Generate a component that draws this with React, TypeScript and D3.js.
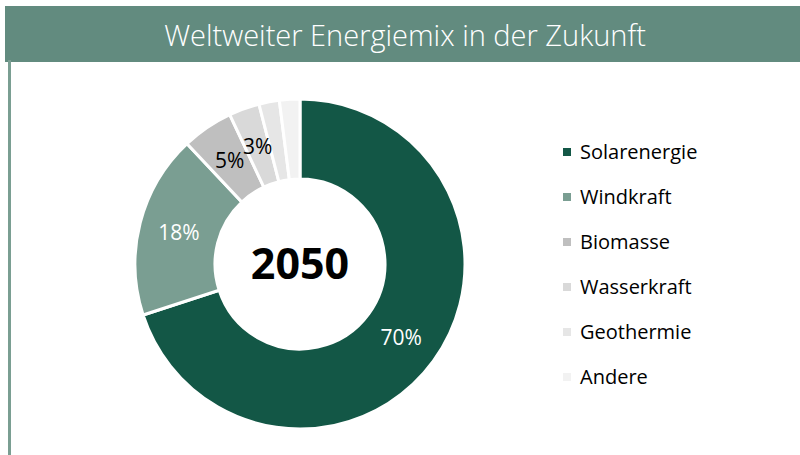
import React, { useEffect, useRef } from 'react';
import * as d3 from 'd3';

const categories = ['Solarenergie', 'Windkraft', 'Biomasse', 'Wasserkraft', 'Geothermie', 'Andere'];
const shares = [70, 18, 5, 3, 2, 2];
const shownLabels = ['70%', '18%', '5%', '3%', '', ''];
const colors = ['#135746', '#7a9e92', '#bfbfbf', '#d9d9d9', '#e6e6e6', '#f2f2f2'];
const labelColors = ['#ffffff', '#ffffff', '#000000', '#000000', '#000000', '#000000'];

const FONT = 'Open Sans, Lato, sans-serif';

const App = () => {
  const svgRef = useRef<SVGSVGElement>(null);

  useEffect(() => {
    const width = 800;
    const height = 455;
    const svg = d3.select(svgRef.current).attr('width', width).attr('height', height);
    svg.selectAll('*').remove();

    svg.append('rect').attr('width', width).attr('height', height).attr('fill', '#ffffff');

    // title bar + left frame line
    svg.append('rect').attr('x', 5).attr('y', 6).attr('width', width - 5).attr('height', 56).attr('fill', '#628b7f');
    svg.append('rect').attr('x', 8).attr('y', 60).attr('width', 3).attr('height', height - 60).attr('fill', '#7a9e92');
    svg.append('text')
      .attr('x', 405)
      .attr('y', 46)
      .attr('text-anchor', 'middle')
      .attr('fill', '#ffffff')
      .style('font-family', FONT)
      .style('font-size', '29px')
      .style('font-weight', 300)
      .text('Weltweiter Energiemix in der Zukunft');

    const cx = 300;
    const cy = 264;
    const outer = 165;
    const inner = 85;

    const pie = d3.pie<number>().sort(null).value(d => d);
    const arcs = pie(shares);
    const arc = d3.arc<d3.PieArcDatum<number>>().innerRadius(inner).outerRadius(outer);
    const labelArc = d3.arc<d3.PieArcDatum<number>>().innerRadius(125).outerRadius(125);

    const g = svg.append('g').attr('transform', `translate(${cx},${cy})`);
    g.selectAll('path')
      .data(arcs)
      .enter().append('path')
      .attr('d', arc)
      .attr('fill', (d, i) => colors[i])
      .attr('stroke', '#ffffff')
      .attr('stroke-width', 3);

    g.selectAll('text.pct')
      .data(arcs)
      .enter().append('text')
      .attr('class', 'pct')
      .attr('transform', d => `translate(${labelArc.centroid(d)})`)
      .attr('text-anchor', 'middle')
      .attr('dy', '0.35em')
      .attr('fill', (d, i) => labelColors[i])
      .style('font-family', FONT)
      .style('font-size', '21px')
      .text((d, i) => shownLabels[i]);

    g.append('text')
      .attr('text-anchor', 'middle')
      .attr('dy', '0.35em')
      .attr('fill', '#000000')
      .style('font-family', FONT)
      .style('font-size', '43px')
      .style('font-weight', 700)
      .text('2050');

    // legend
    const legendY = d3.scalePoint<string>().domain(categories).range([152, 377]);
    const legend = svg.append('g');
    const items = legend.selectAll('g')
      .data(categories)
      .enter().append('g')
      .attr('transform', d => `translate(563,${legendY(d)})`);
    items.append('rect')
      .attr('x', 0)
      .attr('y', -4)
      .attr('width', 8)
      .attr('height', 8)
      .attr('fill', (d, i) => colors[i]);
    items.append('text')
      .attr('x', 17)
      .attr('dy', '0.35em')
      .attr('fill', '#000000')
      .style('font-family', FONT)
      .style('font-size', '20px')
      .text(d => d);
  }, []);

  return <svg ref={svgRef} style={{ position: 'absolute', left: 0, top: 0 }}></svg>;
};

export default App;
